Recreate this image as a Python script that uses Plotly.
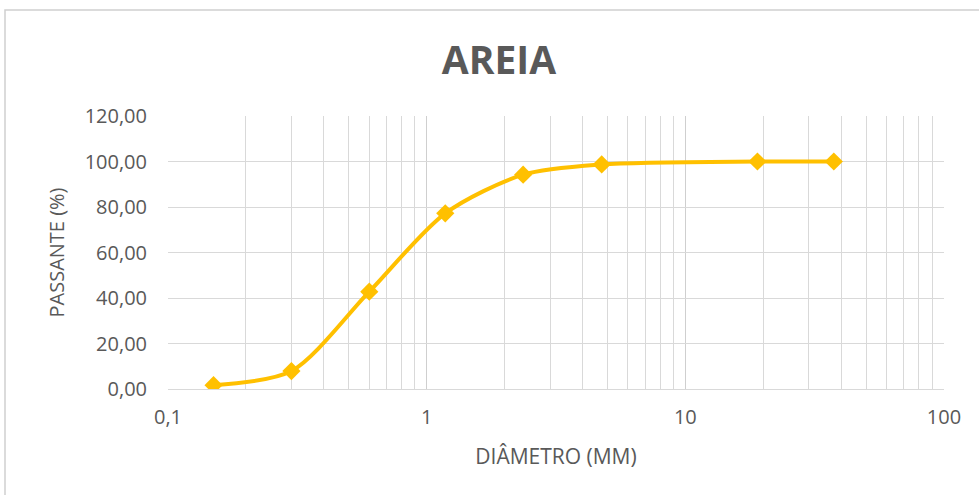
import plotly.graph_objects as go

# Sieve openings (mm) and cumulative percent passing
diametro_mm = [0.15, 0.3, 0.6, 1.18, 2.36, 4.75, 19, 37.5]
passante_pct = [1.7, 7.9, 42.8, 77.2, 94.2, 98.7, 100.0, 100.0]

x_ticks = [0.1, 1, 10, 100]
y_ticks = [0, 20, 40, 60, 80, 100, 120]

W, H = 979, 495
L, R, T, B = 168, 35, 116, 106
pw, ph = W - L - R, H - T - B

grid = "#d9d9d9"
txt = "#595959"
font_family = "Open Sans, Liberation Sans, sans-serif"

fig = go.Figure(
    go.Scatter(
        x=diametro_mm,
        y=passante_pct,
        mode="lines+markers",
        line=dict(color="#FFC000", width=4, shape="spline", smoothing=0.8),
        marker=dict(symbol="diamond", size=14, color="#FFC000"),
        hoverinfo="x+y",
    )
)

fig.update_layout(
    width=W,
    height=H,
    margin=dict(l=L, r=R, t=T, b=B),
    paper_bgcolor="white",
    plot_bgcolor="white",
    separators=",.",
    showlegend=False,
    font=dict(family=font_family, color=txt),
    title=dict(
        text="<b>AREIA</b>",
        x=499 / W,
        xanchor="center",
        y=1 - 60 / H,
        yanchor="middle",
        font=dict(size=39, color=txt, family=font_family),
    ),
    xaxis=dict(
        type="log",
        range=[-1, 2],
        tickvals=x_ticks,
        ticktext=[str(v).replace(".", ",") for v in x_ticks],
        showgrid=True,
        gridcolor="#cfcfcf",
        gridwidth=1,
        minor=dict(dtick="D1", showgrid=True, gridcolor=grid, gridwidth=1),
        showline=True,
        linecolor=grid,
        zeroline=False,
        ticks="",
        ticklabelstandoff=10,
        tickfont=dict(size=20, color=txt),
        title=dict(text="DIÂMETRO (MM)", font=dict(size=21, color=txt), standoff=20),
    ),
    yaxis=dict(
        range=[0, 120],
        tickvals=y_ticks,
        tickformat=".2f",
        showgrid=True,
        gridcolor=grid,
        gridwidth=1,
        zeroline=False,
        showline=False,
        ticks="",
        ticklabelstandoff=20,
        tickfont=dict(size=20, color=txt),
        title=dict(text="PASSANTE (%)", font=dict(size=20, color=txt), standoff=14),
    ),
    shapes=[
        dict(
            type="rect",
            xref="paper",
            yref="paper",
            x0=(5 - L) / pw,
            x1=(W + 5 - L) / pw,
            y0=-(H + 5 - T - ph) / ph,
            y1=1 + (T - 10) / ph,
            line=dict(color="#d0d0d0", width=1.5),
            fillcolor="rgba(0,0,0,0)",
            layer="below",
        )
    ],
)

fig.write_html("out.html")
